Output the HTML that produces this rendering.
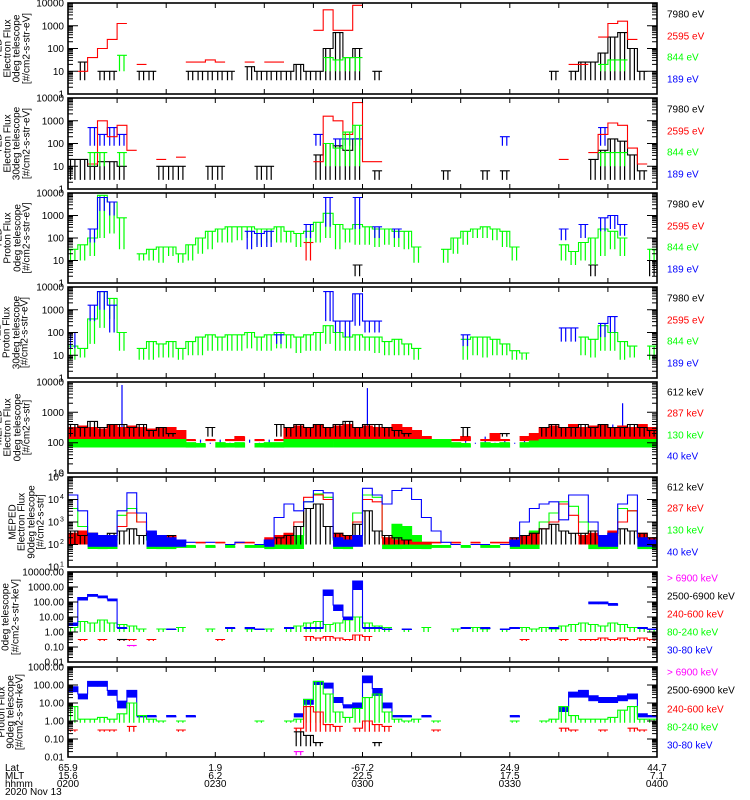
<!DOCTYPE html>
<html><head><meta charset="utf-8"><title>POES TED/MEPED summary 2020 Nov 13</title>
<style>
html,body{margin:0;padding:0;background:#fff;}
svg{display:block;font-family:"Liberation Sans",sans-serif;}
</style></head>
<body>
<svg id="chart" width="750" height="800" viewBox="0 0 750 800" xmlns="http://www.w3.org/2000/svg">
<rect x="0" y="0" width="750" height="800" fill="#fff"/>
<g id="marks"></g>
<g id="axes"></g>
<g id="labels"></g>
</svg>
<script>
const n = null;
// time samples: every 2 minutes from 0200 (minute 0) to 0400 (minute 120)
const sampleMinutes = [0,2,4,6,8,10,12,14,16,18,20,22,24,26,28,30,32,34,36,38,40,42,44,46,48,50,52,54,56,58,60,62,64,66,68,70,72,74,76,78,80,82,84,86,88,90,92,94,96,98,100,102,104,106,108,110,112,114,116,118,120];

// bottom axis annotation
const tickMinutes = [0,30,60,90,120];
const latLabels = ["65.9","1.9","-67.2","24.9","44.7"];
const mltLabels = ["15.6","6.2","22.5","17.5","7.1"];
const hhmmLabels = ["0200","0230","0300","0330","0400"];

// values are log10(flux)
// Panel 1: TED electron 0deg
const p1_black = [n,1.4,n,1.0,1.0,n,n,1.0,1.0,n, n,n,1.0,1.0,1.0,1.0,1.0,n,1.2,1.0, 1.0,1.0,1.0,1.3,1.0,1.0,2.0,2.7,1.6,2.0, n,1.0,n,n,n,n,n,n,n,n, n,n,n,n,n,n,n,n,n,1.0, n,1.0,1.4,1.4,1.8,2.5,2.7,2.0,1.0,n, 1.0];
const p1_black_lo = 0.6;
const p1_red = [n,1.0,1.6,2.0,2.4,3.1,n,1.3,n,n, n,n,1.4,1.4,1.5,1.4,n,n,1.4,n, 1.4,1.4,n,n,n,2.8,3.7,2.8,2.8,3.9, n,n,n,n,n,n,n,n,n,n, n,n,n,n,n,n,n,n,n,n, n,1.3,1.3,n,2.5,3.1,3.2,2.4,n,n, n];
const p1_green = [n,n,n,n,n,1.7,n,n,n,n, n,n,n,n,n,n,n,n,n,n, n,n,n,n,n,n,1.6,1.5,1.6,1.6, n,n,n,n,n,n,n,n,n,n, n,n,n,n,n,n,n,n,n,n, n,n,n,n,1.3,1.5,1.5,n,n,n, n];
const p1_green_lo = 1.0;

// Panel 2: TED electron 30deg
const p2_black = [1.3,1.3,1.0,1.2,1.2,1.0,n,n,n,1.0, 1.0,1.0,n,n,1.0,1.0,n,n,n,1.0, 1.0,n,n,n,n,1.5,2.0,1.9,1.7,2.2, n,0.8,n,n,n,n,n,n,0.8,n, n,n,0.8,n,0.8,n,n,n,n,n, n,n,n,1.3,1.7,2.2,2.1,1.5,0.8,n, n];
const p2_black_lo = 0.4;
const p2_red = [n,n,1.1,3.0,2.3,2.8,1.7,n,n,1.3, n,1.4,n,n,n,n,n,n,n,n, n,n,n,n,n,1.2,3.2,3.0,2.4,3.8, 1.2,1.2,n,n,n,n,n,n,n,n, n,n,n,n,n,n,n,n,n,n, 1.3,n,n,1.6,2.4,2.9,2.8,1.8,1.1,n, n];
const p2_blue = [n,n,2.7,2.4,2.7,2.4,n,n,n,n, n,n,n,n,n,n,n,n,n,n, n,n,n,n,n,2.4,n,2.2,2.2,2.2, n,n,n,n,n,n,n,n,n,n, n,n,n,n,2.3,n,n,n,n,n, n,n,n,n,2.7,n,n,n,n,n, n];
const p2_blue_lo = 1.9;
const p2_green = [n,n,1.6,1.6,n,1.6,n,n,n,n, n,n,n,n,n,n,n,n,n,n, n,n,n,n,n,n,2.0,1.8,2.5,2.8, n,n,n,n,n,n,n,n,n,n, n,n,n,n,n,n,n,n,n,n, n,n,n,n,1.6,1.6,1.6,n,n,n, n];
const p2_green_lo = 1.0;

// Panel 3: TED proton 0deg
const p3_green = [1.5,1.7,2.0,3.9,3.6,2.9,n,1.3,1.5,1.6, 1.6,1.3,1.7,2.0,2.3,2.4,2.5,2.5,2.5,2.4, 2.4,2.5,2.3,2.2,2.3,2.7,3.1,2.6,2.4,2.6, 2.5,2.4,2.4,2.3,2.3,1.6,n,n,1.5,2.0, 2.3,2.4,2.5,2.4,2.3,1.6,n,n,n,n, 1.7,1.4,1.8,2.0,2.4,2.3,2.0,n,n,1.5, 1.7];
const p3_green_lo = [1.0,1.0,1.2,2.0,2.2,1.5,n,1.0,1.0,0.9, 1.2,0.9,1.0,1.3,1.5,1.8,1.8,1.9,2.0,1.7, 1.8,1.8,1.8,1.6,1.8,1.8,2.0,1.5,1.8,1.7, 1.7,1.6,1.7,1.6,1.5,0.9,n,n,0.9,1.3, 1.7,2.0,2.0,1.9,1.6,1.0,n,n,n,n, 1.0,0.8,1.0,0.8,1.2,1.5,1.2,n,n,1.0, 1.2];
const p3_blue = [n,n,2.4,3.8,3.6,n,n,n,n,n, n,n,n,n,n,n,n,n,2.3,2.2, 2.3,n,n,n,2.6,n,3.8,n,n,3.8, n,2.5,n,2.4,n,n,n,n,n,n, n,n,n,n,n,n,n,n,n,n, 2.4,n,2.6,n,2.9,3.0,2.6,n,n,n, n];
const p3_blue_lo = [n,n,1.8,3.2,3.0,n,n,n,n,n, n,n,n,n,n,n,n,n,1.5,1.6, 1.6,n,n,n,2.0,n,2.5,n,n,2.4, n,2.0,n,2.0,n,n,n,n,n,n, n,n,n,n,n,n,n,n,n,n, 1.9,n,2.0,n,2.3,2.4,2.1,n,n,n, n];
const p3_red = [n,n,n,n,n,n,n,n,n,n, n,n,n,n,n,n,n,n,n,n, n,n,n,n,1.8,n,n,n,n,n, n,n,n,n,n,n,n,n,n,n, n,n,n,n,n,n,n,n,n,n, n,n,n,n,n,n,n,n,n,n, n];
const p3_red_lo = 1.0;
const p3_black = [n,n,n,n,n,n,n,n,n,n, n,n,n,n,n,n,n,n,n,n, n,n,n,n,n,n,n,n,n,0.8, n,n,n,n,n,n,n,n,n,n, n,n,n,n,n,n,n,n,n,n, n,n,n,0.8,n,n,n,n,n,1.0, n];
const p3_black_lo = 0.3;

// Panel 4: TED proton 30deg
const p4_green = [1.4,1.3,2.6,3.8,3.5,2.0,n,1.3,1.6,1.5, 1.6,1.3,1.6,1.8,1.9,1.8,1.9,1.9,2.0,1.8, 1.9,2.0,1.9,1.8,1.9,2.0,2.3,2.0,1.8,1.9, 1.8,1.8,1.6,1.7,1.5,1.3,n,n,n,n, 1.7,1.8,1.8,1.7,1.5,1.2,1.1,n,n,n, n,n,1.8,1.7,2.3,2.0,1.6,1.4,n,1.4, 1.5];
const p4_green_lo = [0.8,0.9,1.5,2.2,2.6,1.2,n,0.8,0.8,0.9, 0.9,0.8,1.0,1.0,1.2,1.2,1.2,1.2,1.3,1.2, 1.2,1.3,1.3,1.1,1.2,1.2,1.5,1.2,1.2,1.2, 1.2,1.1,1.0,1.0,1.0,0.8,n,n,n,n, 0.8,1.0,0.9,1.0,1.0,0.8,0.8,n,n,n, n,n,1.0,0.9,1.2,1.2,0.8,0.9,n,0.8, 0.9];
const p4_blue = [2.0,n,3.2,3.8,3.2,n,n,n,n,n, n,n,n,n,n,n,n,n,n,n, n,1.9,n,n,n,n,3.8,2.5,2.5,3.7, 2.5,2.5,n,n,n,n,n,n,n,n, 1.9,n,n,n,n,n,n,n,n,n, 2.2,2.2,n,n,2.4,2.7,n,n,n,n, n];
const p4_blue_lo = [1.3,n,2.5,3.0,2.0,n,n,n,n,n, n,n,n,n,n,n,n,n,n,n, n,1.5,n,n,n,n,2.5,2.0,1.8,2.3, 2.0,2.0,n,n,n,n,n,n,n,n, 1.4,n,n,n,n,n,n,n,n,n, 1.6,1.6,n,n,1.8,2.0,n,n,n,n, n];

// Panel 5: MEPED electron 0deg
const p5_blue = [2.4,2.3,2.4,2.3,2.5,3.9,2.5,2.4,2.3,2.3,2.2,2.2, 2.0,2.1,2.0,2.1,2.0,2.0,2.1,2.0,2.1,2.0, 2.3,2.4,2.4,2.3,2.5,2.4,2.4,2.3,3.8,2.5,2.4,2.3,2.3,2.2, 2.1,2.0,2.1,2.0,2.1,2.0,2.2,2.0,2.1,2.0,2.1,2.2, 2.3,2.4,2.3,2.5,2.4,2.4,2.5,2.6,3.3,2.4,2.4,2.3,2.2];
const p5_blue_lo = 2.0;
const p5_red = [2.5,2.55,2.5,2.45,2.6,2.5,2.55,2.5,2.45,2.5,2.5,2.4, 2.1,n,2.1,n,2.1,2.2,n,2.1,n,2.1, 2.5,2.55,2.5,2.6,2.5,2.55,2.6,2.5,2.55,2.5,2.5,2.6,2.5,2.4, 2.2,2.1,n,2.1,2.2,n,2.1,2.3,2.1,n,2.2,2.3, 2.5,2.55,2.5,2.6,2.5,2.55,2.6,2.5,2.55,2.5,2.6,2.5,2.5];
const p5_red_lo = 2.05;
const p5_black = [2.6,2.5,2.7,2.5,2.6,2.6,2.5,2.6,2.4,2.5,2.3,n, n,n,2.5,n,n,n,n,n,n,2.6, 2.5,2.6,2.5,2.6,2.5,2.6,2.7,2.5,2.6,2.6,2.5,2.4,2.3,n, n,n,n,n,2.5,n,n,n,2.3,n,n,n, 2.5,2.6,2.5,2.5,2.6,2.5,2.6,2.5,2.5,2.6,2.5,2.4,2.5];
const p5_black_lo = 2.2;
const p5_green = [2.1,2.1,2.1,2.1,2.1,2.1,2.1,2.1,2.1,2.1,2.1,2.1, 2.0,1.97,n,2.0,1.97,2.0,n,1.97,2.0,2.0, 2.1,2.1,2.1,2.1,2.1,2.1,2.1,2.1,2.1,2.1,2.1,2.1,2.1,2.1, 2.1,2.1,2.1,2.0,1.97,n,2.0,1.97,2.0,n,2.0,2.05, 2.1,2.1,2.1,2.1,2.1,2.1,2.1,2.1,2.1,2.1,2.1,2.1,2.1];
const p5_green_lo = 1.84;

// Panel 6: MEPED electron 90deg
const p6_blue = [4.2,3.5,2.5,2.4,2.4,3.5,4.3,3.4,2.6,2.4, 2.3,2.2,2.1,n,2.1,n,2.0,2.1,n,2.0, 2.2,3.2,3.8,3.5,3.9,4.4,4.3,2.3,2.2,2.4, 4.5,4.2,3.8,4.4,4.5,4.0,3.2,2.6,2.1,2.0, n,2.0,2.0,n,2.0,2.2,3.0,3.6,3.8,3.9, 3.1,4.2,4.2,3.0,2.4,2.5,3.8,4.2,2.3,2.2,2.1];
const p6_blue_lo = [n,n,1.9,1.9,1.9,n,n,n,1.9,1.9, 1.9,1.9,n,n,n,n,n,n,n,n, 1.9,n,n,n,n,n,n,1.9,1.9,1.9, n,n,n,n,n,n,n,n,n,n, n,n,n,n,n,1.9,n,n,n,n, n,n,n,n,1.9,1.9,n,n,1.9,1.9,1.9];
const p6_red = [2.5,2.6,2.5,2.4,2.4,2.8,3.4,3.0,2.4,2.3, 2.4,2.1,n,2.1,n,2.1,n,2.1,2.1,n, 2.3,2.4,2.5,3.0,4.1,4.2,4.0,2.5,2.4,3.0, 4.0,3.9,2.3,2.2,2.2,2.1,2.1,2.1,n,2.1, n,2.1,n,2.1,2.1,2.3,2.4,2.5,2.7,3.0, 3.8,3.3,2.4,2.5,2.4,2.6,3.0,3.5,2.5,2.3,2.4];
const p6_red_lo = [2.0,2.0,2.0,2.0,2.0,n,n,n,2.0,2.0, 2.0,2.05,n,2.05,n,2.05,n,2.05,2.05,n, 2.0,2.0,2.0,n,n,n,n,2.0,2.0,n, n,n,2.0,2.0,2.0,2.0,2.0,2.05,n,2.05, n,2.05,n,2.05,2.05,2.0,2.0,2.0,n,n, n,n,2.0,2.0,2.0,2.0,n,n,2.0,2.0,2.0];
const p6_green = [3.6,2.8,2.2,2.1,2.2,3.3,3.6,3.0,2.2,2.1, 2.1,1.95,1.95,n,1.95,n,1.95,n,1.95,1.95, 2.1,2.2,2.3,2.4,3.9,4.25,4.1,2.2,2.1,3.4, 4.2,4.1,2.3,2.9,2.8,2.4,2.1,1.95,1.95,n, 1.95,n,1.95,1.95,n,2.0,2.2,2.6,3.0,3.4, 3.9,3.7,3.0,2.3,2.1,2.4,3.6,3.5,2.3,2.1,2.0];
const p6_green_lo = [n,n,1.8,1.8,1.8,n,n,n,1.8,1.8, 1.8,1.85,1.85,n,1.85,n,1.85,n,1.85,1.85, 1.8,1.8,1.8,1.8,n,n,n,1.8,1.8,n, n,n,1.8,1.8,1.8,1.8,1.8,1.85,1.85,n, 1.85,n,1.85,1.85,n,1.8,1.8,1.8,n,n, n,n,n,1.8,1.8,1.8,n,n,1.8,1.8,1.8];
const p6_black = [2.6,2.4,2.5,2.3,2.5,2.6,2.7,2.4,2.5,2.3, 2.4,n,n,n,n,n,n,n,n,n, n,2.3,2.4,2.8,3.6,3.8,2.8,2.5,2.4,2.9, 3.5,2.6,2.4,2.3,2.2,n,n,n,n,n, n,n,n,n,n,2.3,2.4,2.5,2.7,2.9, 2.6,2.5,2.5,2.6,2.4,2.5,2.7,2.6,2.5,2.3,2.4];
const p6_black_lo = 2.0;

// Panel 7: MEPED proton 0deg
const p7_blue = [0.6,2.3,2.5,2.4,2.2,0.3,n,n,n,n, 0.2,n,n,n,n,n,0.3,n,0.3,0.2, n,n,0.3,n,0.3,0.3,2.8,1.8,1.0,3.4, 0.3,0.3,0.2,n,0.2,n,n,n,n,n, 0.3,n,0.3,n,0.2,0.3,n,n,n,0.3, n,n,n,2.0,2.0,1.9,n,n,0.3,0.2,0.3];
const p7_blue_lo = [0.4,2.1,2.35,2.25,2.05,0.2,n,n,n,n, 0.15,n,n,n,n,n,0.2,n,0.2,0.15, n,n,0.2,n,0.2,0.2,2.4,1.4,0.8,2.8, 0.2,0.2,0.15,n,0.15,n,n,n,n,n, 0.2,n,0.2,n,0.15,0.2,n,n,n,0.2, n,n,n,1.85,1.85,1.75,n,n,0.2,0.15,0.2];
const p7_green = [0.3,0.7,0.6,0.8,0.6,0.5,0.4,0.2,n,0.2, n,0.3,n,n,0.2,n,0.3,n,0.2,n, 0.2,n,0.3,0.4,0.6,0.7,0.5,0.6,0.8,1.0, 0.6,0.4,0.3,n,0.2,n,0.3,n,n,0.2, n,0.3,0.2,n,0.2,n,0.3,0.2,0.3,0.2, 0.4,0.5,0.6,0.5,0.4,0.6,0.5,0.3,0.3,0.2,0.3];
const p7_green_lo = 0.0;
const p7_red = [n,-0.5,n,-0.5,n,-0.5,-0.5,n,-0.5,n, n,n,n,n,n,-0.5,n,n,n,n, n,n,n,n,-0.3,-0.4,-0.3,-0.4,-0.5,-0.2, -0.3,n,n,n,n,n,n,n,n,n, n,n,n,n,n,n,-0.5,n,n,n, -0.5,n,-0.5,-0.5,-0.4,-0.5,-0.4,-0.5,-0.4,-0.5,n];
const p7_red_lo = -0.6;
const p7_black = [n,n,n,n,n,-0.5,n,n,n,n, n,n,n,n,n,n,n,n,n,n, n,n,n,n,n,n,n,n,n,n, n,n,n,n,n,n,n,n,n,n, n,n,n,n,n,n,n,n,n,n, n,n,n,n,n,n,n,n,n,n,n];
const p7_black_lo = -0.55;
const p7_magenta = [n,n,n,n,n,n,-0.9,n,n,n, n,n,n,n,n,n,n,n,n,n, n,n,n,n,n,n,n,n,n,n, n,n,n,n,n,n,n,n,n,n, n,n,n,n,n,n,n,n,n,n, n,n,n,n,n,n,n,n,n,n,n];
const p7_magenta_lo = -0.95;

// Panel 8: MEPED proton 90deg
const p8_blue = [1.9,1.5,2.2,2.2,1.7,1.1,1.7,0.3,0.3,n, 0.3,n,0.3,n,n,n,n,n,n,n, n,n,n,0.4,1.2,2.2,2.1,1.3,0.9,1.0, 2.5,1.8,1.0,0.3,0.3,n,0.3,n,n,n, n,n,n,n,n,0.3,n,n,n,n, 0.8,1.6,1.7,1.4,1.3,1.3,1.4,1.5,0.4,0.3,n];
const p8_blue_lo = [1.6,1.2,1.9,1.9,1.4,0.7,1.3,0.2,0.2,n, 0.2,n,0.2,n,n,n,n,n,n,n, n,n,n,0.2,0.9,2.0,1.8,1.0,0.7,0.7, 2.1,1.4,0.7,0.2,0.2,n,0.2,n,n,n, n,n,n,n,n,0.2,n,n,n,n, 0.5,1.3,1.3,1.1,1.0,1.0,1.1,1.2,0.2,0.2,n];
const p8_green = [0.8,0.1,0.1,0.2,0.1,0.4,1.0,0.3,0.1,0.0, n,0.0,n,n,n,n,n,n,n,0.0, n,n,0.0,0.1,1.2,2.2,1.5,0.5,0.2,0.7, 1.3,1.5,0.5,0.1,0.0,0.1,n,0.0,n,n, n,n,n,n,n,0.0,n,n,0.0,0.1, 0.8,0.3,0.1,0.1,0.1,0.2,0.6,0.8,0.1,0.1,0.0];
const p8_green_lo = -0.1;
const p8_red = [-0.5,n,n,-0.5,-0.5,n,-0.3,n,n,n, n,-0.5,n,n,n,n,n,n,n,n, n,n,n,-0.4,0.8,0.5,-0.2,-0.3,n,-0.4, 0.0,-0.2,-0.3,n,n,n,n,-0.5,n,n, n,n,n,n,n,n,n,n,n,n, -0.4,-0.5,n,n,-0.5,n,n,-0.4,-0.5,n,n];
const p8_red_lo = -0.6;
const p8_black = [n,n,n,n,n,n,n,n,n,n, n,n,n,n,n,n,n,n,n,n, n,n,n,-0.6,-0.8,-1.2,n,n,n,n, n,-1.2,n,n,n,n,n,n,n,n, n,n,n,n,n,n,n,n,n,n, n,n,n,n,n,n,n,n,n,n,n];
const p8_black_lo = -1.4;
const p8_magenta = [n,n,n,n,n,n,n,n,n,n, n,n,n,n,n,n,n,n,n,n, n,n,n,-1.7,n,n,n,n,n,n, n,n,n,n,n,n,n,n,n,n, n,n,n,n,n,n,n,n,n,n, n,n,n,n,n,n,n,n,n,n,n];
const p8_magenta_lo = -1.9;

// tick labels
const tedTicks = ["1","10","100","1000","10000"];
const p5Ticks = ["10","100","1000","10000"];
const p6TickExps = ["1","2","3","4","5"];
const p7Ticks = ["0.01","0.10","1.00","10.00","100.00","1000.00","10000.00"];
const p8Ticks = ["0.01","0.10","1.00","10.00","100.00","1000.00"];
const tedLegend = ["7980 eV","2595 eV","844 eV","189 eV"];
const medLegend = ["612 keV","287 keV","130 keV","40 keV"];
const proLegend = ["> 6900 keV","2500-6900 keV","240-600 keV","80-240 keV","30-80 keV"];

// ---------- layout ----------
const SVGNS = "http://www.w3.org/2000/svg";
const PL = 68, PR = 657;
const T0 = 0, T1 = 120;
const X = m => PL + (m - T0) / (T1 - T0) * (PR - PL);
const C = {k:"#000000", r:"#ff0000", g:"#00ff00", b:"#0000ff", m:"#ff00ff"};

const panels = [
  {key:"ted-e-0", top:3, h:91, lmin:0, lmax:4, ticks:tedTicks, titles:["TED","Electron Flux","0deg telescope","[#/cm2-s-str-eV]"], tx:[-1,8,17,27],
   legend:tedLegend, lcol:[C.k,C.r,C.g,C.b], ly:[11,33,54,76],
   series:[[p1_black,p1_black_lo,C.k,"spikes"],[p1_red,n,C.r,"line"],[p1_green,p1_green_lo,C.g,"spikes"]]},
  {key:"ted-e-30", top:98, h:91, lmin:0, lmax:4, ticks:tedTicks, titles:["TED","Electron Flux","30deg telescope","[#/cm2-s-str-eV]"], tx:[-1,8,17,27],
   legend:tedLegend, lcol:[C.k,C.r,C.g,C.b], ly:[11,33,54,76],
   series:[[p2_black,p2_black_lo,C.k,"spikes"],[p2_blue,p2_blue_lo,C.b,"spikes"],[p2_red,n,C.r,"line"],[p2_green,p2_green_lo,C.g,"spikes"]]},
  {key:"ted-p-0", top:193, h:90, lmin:0, lmax:4, ticks:tedTicks, titles:["TED","Proton Flux","0deg telescope","[#/cm2-s-str-eV]"], tx:[-1,8,18,27],
   legend:tedLegend, lcol:[C.k,C.r,C.g,C.b], ly:[11,33,54,76],
   series:[[p3_black,p3_black_lo,C.k,"spikes"],[p3_red,p3_red_lo,C.r,"spikes"],[p3_green,p3_green_lo,C.g,"spikes"],[p3_blue,p3_blue_lo,C.b,"spikes"]]},
  {key:"ted-p-30", top:287, h:91, lmin:0, lmax:4, ticks:tedTicks, titles:["TED","Proton Flux","30deg telescope","[#/cm2-s-str-eV]"], tx:[-2,7,17,25],
   legend:tedLegend, lcol:[C.k,C.r,C.g,C.b], ly:[11,33,54,76],
   series:[[p4_green,p4_green_lo,C.g,"spikes"],[p4_blue,p4_blue_lo,C.b,"spikes"]]},
  {key:"meped-e-0", top:382, h:91, lmin:1, lmax:4, ticks:p5Ticks, titles:["MEPED","Electron Flux","0deg telescope","[#/cm2-s-str]"], tx:[-1,8,18,27],
   legend:medLegend, lcol:[C.k,C.r,C.g,C.b], ly:[10,31,53,74],
   series:[[p5_blue,p5_blue_lo,C.b,"thin"],[p5_red,p5_red_lo,C.r,"solid"],[p5_black,p5_black_lo,C.k,"spikes"],[p5_green,p5_green_lo,C.g,"solid"]]},
  {key:"meped-e-90", top:477, h:90, lmin:1, lmax:5, ticks:null, titles:["MEPED","Electron Flux","90deg telescope","[#/cm2-s-str]"], tx:[13,22,32,41],
   legend:medLegend, lcol:[C.k,C.r,C.g,C.b], ly:[10,31,53,75],
   series:[[p6_green,p6_green_lo,C.g,"solid"],[p6_red,p6_red_lo,C.r,"solid"],[p6_black,p6_black_lo,C.k,"spikes"],[p6_blue,p6_blue_lo,C.b,"solid"]]},
  {key:"meped-p-0", top:572, h:90, lmin:-2, lmax:4, ticks:p7Ticks, titles:["Proton Flux","0deg telescope","[#/cm2-s-str-keV]"], tx:[-3,6,16],
   legend:proLegend, lcol:[C.m,C.k,C.r,C.g,C.b], ly:[6,24,42,60,78],
   series:[[p7_green,p7_green_lo,C.g,"spikes"],[p7_red,p7_red_lo,C.r,"spikes"],[p7_blue,p7_blue_lo,C.b,"solid"],[p7_black,p7_black_lo,C.k,"spikes"],[p7_magenta,p7_magenta_lo,C.m,"spikes"]]},
  {key:"meped-p-90", top:667, h:90, lmin:-2, lmax:3, ticks:p8Ticks, titles:["Proton Flux","90deg telescope","[#/cm2-s-str-keV]"], tx:[2,11,20],
   legend:proLegend, lcol:[C.m,C.k,C.r,C.g,C.b], ly:[5,23,42,60,78],
   series:[[p8_blue,p8_blue_lo,C.b,"solid"],[p8_green,p8_green_lo,C.g,"spikes"],[p8_red,p8_red_lo,C.r,"spikes"],[p8_black,p8_black_lo,C.k,"spikes"],[p8_magenta,p8_magenta_lo,C.m,"spikes"]]}
];

const marks = document.getElementById("marks");
const axes = document.getElementById("axes");
const labels = document.getElementById("labels");
const svg = document.getElementById("chart");
const defs = document.createElementNS(SVGNS, "defs");
svg.insertBefore(defs, svg.firstChild);

function mk(tag, attrs, parent) {
  const e = document.createElementNS(SVGNS, tag);
  for (const k in attrs) e.setAttribute(k, attrs[k]);
  if (parent) parent.appendChild(e);
  return e;
}
function txt(str, x, y, opts, parent) {
  const e = mk("text", Object.assign({x:x, y:y, "font-size":10, fill:"#000"}, opts || {}), parent);
  e.textContent = str;
  return e;
}

panels.forEach((p, pi) => {
  const Y = v => p.top + p.h * (p.lmax - v) / (p.lmax - p.lmin);
  const cp = mk("clipPath", {id:"clip" + pi}, defs);
  mk("rect", {x:PL, y:p.top, width:PR - PL, height:p.h}, cp);

  const g = mk("g", {"clip-path":"url(#clip" + pi + ")"}, marks);
  
  

  p.series.forEach((s, si) => {
    const hi = s[0], lo = s[1], col = s[2], mode = s[3];
    const sg = mk("g", {}, g);
    
    
    let d = "";
    let bands = "";
    for (let i = 0; i < sampleMinutes.length; i++) {
      const v = hi[i];
      if (v === null || v === undefined) continue;
      const x0 = X(sampleMinutes[i]);
      const x1 = X(i + 1 < sampleMinutes.length ? sampleMinutes[i + 1] : T1);
      const yv = Y(v);
      const lv = Array.isArray(lo) ? lo[i] : lo;
      if (lv !== null && lv !== undefined) {
        const yl = Y(lv);
        const w = x1 - x0;
        if (mode === "solid") {
          mk("rect", {x:x0.toFixed(1), y:Math.min(yv, yl).toFixed(1), width:(w + 0.4).toFixed(1), height:Math.max(1, Math.abs(yl - yv)).toFixed(1), fill:col}, sg);
        } else if (mode === "spikes") {
          [0.25, 0.7].forEach(f => {
            const xs = (x0 + f * w).toFixed(1);
            bands += "M" + xs + "," + yv.toFixed(1) + "V" + Math.max(yl, yv + 1).toFixed(1);
          });
        } else if (mode === "thin") {
          const xs = (x0 + 0.5 * w).toFixed(1);
          bands += "M" + xs + "," + yv.toFixed(1) + "V" + Math.max(yl, yv + 1).toFixed(1);
        }
      }
      if (mode === "thin") continue;
      const prev = i > 0 ? hi[i - 1] : null;
      if (prev === null || prev === undefined) d += "M" + x0.toFixed(1) + "," + yv.toFixed(1);
      else d += "V" + yv.toFixed(1);
      d += "H" + x1.toFixed(1);
    }
    if (bands) mk("path", {d:bands, stroke:col, "stroke-width":1.2, fill:"none"}, sg);
    if (d) mk("path", {d:d, stroke:col, "stroke-width":1.1, fill:"none"}, sg);
  });

  // axes frame
  const ag = mk("g", {}, axes);
  
  
  mk("rect", {x:PL, y:p.top, width:PR - PL, height:p.h, fill:"none", stroke:"#000", "stroke-width":1.6}, ag);
  let td = "";
  for (let dct = p.lmin; dct <= p.lmax; dct++) {
    const y = Y(dct).toFixed(1);
    td += "M" + PL + "," + y + "h10M" + PR + "," + y + "h-10";
    if (dct < p.lmax) {
      for (let k = 2; k <= 9; k++) {
        const ym = Y(dct + Math.log10(k)).toFixed(1);
        td += "M" + PL + "," + ym + "h5M" + PR + "," + ym + "h-5";
      }
    }
  }
  for (let m = 10; m < 120; m += 10) {
    const x = X(m).toFixed(1);
    td += "M" + x + "," + p.top + "v5M" + x + "," + (p.top + p.h) + "v-5";
  }
  mk("path", {d:td, stroke:"#000", "stroke-width":1, fill:"none"}, ag);

  // y tick labels
  const lg = mk("g", {}, labels);
  
  
  for (let dct = p.lmin; dct <= p.lmax; dct++) {
    const y = Y(dct) + 3.5;
    if (p.ticks) {
      txt(p.ticks[dct - p.lmin], 64, y.toFixed(1), {"text-anchor":"end"}, lg);
    } else {
      txt("10", 59, y.toFixed(1), {"text-anchor":"end"}, lg);
      const sup = mk("text", {x:60, y:(y - 4).toFixed(1), "font-size":7, fill:"#000"}, lg);
      sup.textContent = p6TickExps[dct - p.lmin];
    }
  }

  // y axis titles
  const tg = mk("g", {}, labels);
  
  
  const cy = p.top + p.h / 2;
  p.titles.forEach((t, ti) => {
    const x = p.tx[ti];
    txt(t, 0, 0, {"text-anchor":"middle", "dominant-baseline":"central", transform:"translate(" + x + "," + cy + ") rotate(-90)"}, tg);
  });

  // legend
  const leg = mk("g", {}, labels);
  
  
  p.legend.forEach((t, li) => {
    const e = txt(t, 667, (p.top + p.ly[li] + 3.5).toFixed(1), {fill:p.lcol[li]}, leg);
    
    
  });
});

// bottom axis labels
const bg = mk("g", {}, labels);


const rowY = [771, 779, 787, 795];
["Lat","MLT","hhmm","2020 Nov 13"].forEach((t, i) => {
  const e = txt(t, 5, rowY[i], {}, bg);
  
  
});
tickMinutes.forEach((m, i) => {
  const x = X(m).toFixed(1);
  txt(latLabels[i], x, rowY[0], {"text-anchor":"middle"}, bg);
  txt(mltLabels[i], x, rowY[1], {"text-anchor":"middle"}, bg);
  txt(hhmmLabels[i], x, rowY[2], {"text-anchor":"middle"}, bg);
});
</script>
</body></html>
